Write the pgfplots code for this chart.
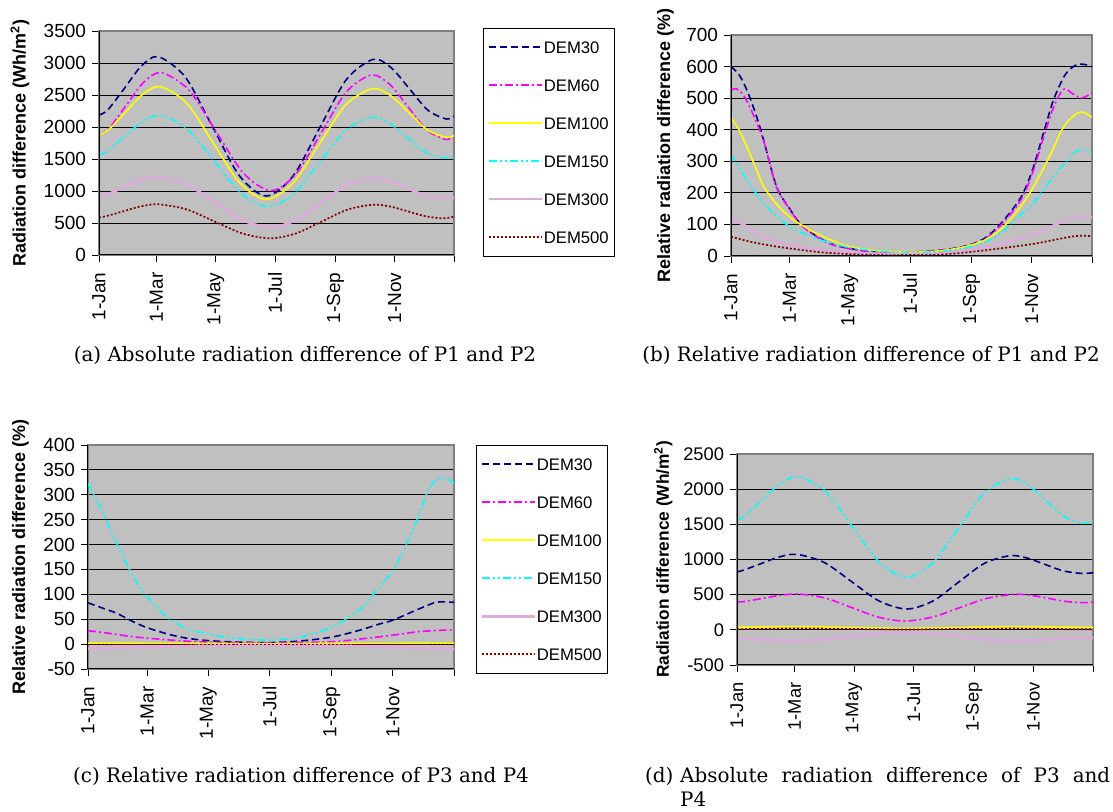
\documentclass[border=0pt]{standalone}
\usepackage{fontspec}
\setsansfont{Liberation Sans}
\newfontfamily\capfont{DejaVu Serif}
\usepackage{pgfplots}
\pgfplotsset{compat=1.18}
\definecolor{c30}{HTML}{000080}
\definecolor{c60}{HTML}{FF00FF}
\definecolor{c100}{HTML}{FFFF00}
\definecolor{c150}{HTML}{00FFFF}
\definecolor{c300}{HTML}{DDAADD}
\definecolor{c500}{HTML}{800000}
\definecolor{plotbg}{HTML}{C0C0C0}
\definecolor{framegray}{HTML}{808080}
\pgfplotsset{
  dem30/.style={c30, line width=1.6pt, dash pattern=on 7pt off 4pt},
  dem60/.style={c60, line width=1.6pt, dash pattern=on 8pt off 3pt on 2pt off 3pt},
  dem100/.style={c100, line width=1.6pt},
  dem150/.style={c150, line width=1.6pt, dash pattern=on 8pt off 3pt on 2pt off 3pt on 2pt off 3pt},
  dem300/.style={c300, line width=2.6pt},
  dem500/.style={c500, line width=1.7pt, dash pattern=on 2pt off 2pt},
  base/.style={
    scale only axis, anchor=south west,
    xmin=0, xmax=365,
    xtick={0,59,120,181,243,304,365},
    xticklabels={1-Jan,1-Mar,1-May,1-Jul,1-Sep,1-Nov,{}},
    tick pos=left,
    tick align=outside,
    major tick length=7pt,
    tick style={black, line width=0.9pt},
    axis background/.style={fill=plotbg},
    axis line style={framegray, line width=1.2pt},
    ymajorgrids, grid style={black, line width=0.9pt},
    clip mode=individual,
    /pgf/number format/assume math mode=true,
    /pgf/number format/1000 sep={},
    xticklabel style={font=\fontsize{19}{20}\selectfont\sffamily, yshift=-7pt, rotate=90, anchor=east},
    yticklabel style={font=\fontsize{19}{20}\selectfont\sffamily, xshift=-2.5pt},
    ylabel style={font=\fontsize{18}{20}\selectfont\sffamily\bfseries, anchor=center},
    every axis plot/.append style={smooth},
    after end axis/.code={\draw[black, line width=1pt] (rel axis cs:0,1) -- (rel axis cs:0,0) -- (rel axis cs:1,0);},
  },
  leg/.style={
    legend style={anchor=north west, draw=black, fill=white,
      font=\fontsize{16.7}{18}\selectfont\sffamily, inner xsep=4pt, inner ysep=12pt, row sep=24pt,
      nodes={inner sep=1pt, text height=12pt, text depth=0pt}},
    legend cell align=left,
  },
}
\begin{document}
\begin{tikzpicture}
\useasboundingbox (0,0) rectangle (1113pt,811pt);
% ---------------- (a)
\begin{axis}[base, leg, at={(99pt,556pt)}, width=355pt, height=224pt,
  ymin=0, ymax=3500, ytick={0,500,...,3500},
  ylabel={Radiation difference (Wh/m\textsuperscript{2})},
  ylabel style={at={(axis description cs:-0.2225,0.5)}},
  legend style={at={(axis description cs:1.0817,1.0134)}},
  legend image code/.code={\draw[#1] (0pt,0pt) -- (53pt,0pt);}]
\addplot[dem30] coordinates {(0,2187)(9,2267)(26.5,2611)(43.75,2956)(61,3098)(88.75,2779)(116.5,2010)(144.25,1241)(172,922)(199.5,1235)(227,1990)(254.5,2744)(282,3057)(300.75,2921)(319.5,2591)(338.25,2261)(357,2125)(365,2172)};
\addplot[dem60] coordinates {(0,1875)(9.25,1960)(27.5,2328)(45.75,2696)(64,2849)(92.25,2579)(120.5,1927)(148.75,1275)(177,1005)(202.75,1270)(228.5,1909)(254.25,2547)(280,2812)(299,2665)(318,2310)(337,1954)(356,1807)(365,1849)};
\addplot[dem100] coordinates {(0,1870)(9.75,1955)(27.5,2235)(45.25,2514)(63,2630)(90.25,2372)(117.5,1750)(144.75,1128)(172,870)(199.25,1123)(226.5,1735)(253.75,2346)(281,2599)(300,2488)(319,2219)(338,1950)(357,1839)(365,1865)};
\addplot[dem150] coordinates {(0,1563)(7.5,1613)(26,1847)(44.5,2080)(63,2177)(90.75,1969)(118.5,1466)(146.25,963)(174,755)(200.5,959)(227,1453)(253.5,1947)(280,2151)(298.5,2058)(317,1834)(335.5,1609)(354,1516)(365,1547)};
\addplot[dem300] coordinates {(0,901)(7,935)(25,1055)(43,1174)(61,1224)(89.75,1108)(118.5,828)(147.25,548)(176,432)(202,544)(228,815)(254,1086)(280,1198)(298.5,1152)(317,1042)(335.5,931)(354,885)(365,891)};
\addplot[dem500] coordinates {(0,589)(7,605)(25,683)(43,760)(61,792)(89.75,714)(118.5,526)(147.25,338)(176,260)(202.5,337)(229,523)(255.5,709)(282,786)(300,755)(318,680)(336,604)(354,573)(365,599)};
\legend{DEM30,DEM60,DEM100,DEM150,DEM300,DEM500}
\end{axis}
% ---------------- (b)
\begin{axis}[base, at={(731pt,555pt)}, width=361pt, height=221pt,
  ymin=0, ymax=700, ytick={0,100,...,700},
  ylabel={Relative radiation difference (\%)},
  ylabel style={at={(axis description cs:-0.1814,0.5)}}]
\addplot[dem30] coordinates {(0,600)(8,575)(16,526)(25,450)(33,367)(46,220)(59,151)(73,93)(100,40)(134,17)(160,12)(181,12)(210,18)(235,30)(255,53)(272,100)(292,180)(304,265)(316,390)(326,494)(338,575)(349,605)(357,607)(365,600)};
\addplot[dem60] coordinates {(0,525)(5,530)(12,512)(20,465)(33,365)(46,218)(59,150)(73,92)(100,38)(134,16)(160,12)(181,12)(210,17)(235,29)(255,50)(272,95)(292,172)(304,255)(316,375)(326,470)(336,528)(345,515)(354,500)(365,516)};
\addplot[dem100] coordinates {(0,438)(8,400)(16,346)(25,280)(33,220)(46,165)(59,125)(73,95)(86,72)(100,52)(120,30)(150,16)(181,12)(210,16)(235,28)(255,48)(272,82)(285,125)(296,170)(306,220)(322,315)(333,390)(340,425)(350,452)(356,455)(365,440)};
\addplot[dem150] coordinates {(0,322)(8,282)(16,241)(25,200)(33,167)(46,128)(59,93)(73,72)(86,56)(100,42)(120,27)(150,15)(181,11)(210,14)(235,24)(255,42)(272,72)(289,120)(305,165)(322,235)(340,304)(348,330)(355,338)(365,325)};
\addplot[dem300] coordinates {(0,118)(15,95)(33,60)(59,35)(90,18)(120,10)(150,7)(181,6)(210,8)(240,18)(272,38)(305,68)(325,95)(340,115)(355,125)(365,121)};
\addplot[dem500] coordinates {(0,61)(20,45)(40,33)(59,24)(90,12)(120,6)(150,3)(181,3)(210,4)(240,12)(272,24)(305,38)(325,50)(340,59)(352,64)(365,63)};
\end{axis}
% ---------------- (c)
\begin{axis}[base, leg, at={(88pt,142pt)}, width=366pt, height=224pt,
  ymin=-50, ymax=400, ytick={-50,0,...,400},
  ylabel={Relative radiation difference (\%)},
  ylabel style={at={(axis description cs:-0.1844,0.5)}},
  legend style={at={(axis description cs:1.0601,1.0)}},
  legend image code/.code={\draw[#1] (0pt,0pt) -- (53pt,0pt);}]
\addplot[dem30] coordinates {(0,83)(15,72)(28.6,62)(45,45)(59,33)(80,20)(98,12)(120,7)(150,4)(181,3)(210,6)(243,14)(271,28)(290,40)(304.5,48.5)(327.5,68.5)(345,83)(351,85)(365,84)};
\addplot[dem60] coordinates {(0,27)(20,22)(40,16)(59,12)(90,7)(120,4)(181,2.5)(243,5)(275,11)(304,18)(330,25)(354,28)(365,28)};
\addplot[dem100] coordinates {(0,2)(181,1)(365,2)};
\addplot[dem150] coordinates {(0,323)(12,276)(28.6,203)(45,136)(59,95)(78.5,55)(98,32)(120,20)(145,12)(181.5,8)(211,14)(243,34)(271,69)(288,109)(304.5,149)(318,203)(329.5,256)(341,316)(354,335)(365,323)};
\addplot[dem300] coordinates {(0,-9)(59,-6)(120,-3)(181,-2)(243,-3)(304,-6)(340,-9)(365,-9)};
\addplot[dem500] coordinates {(0,-1)(181,-1)(365,-1)};
\legend{DEM30,DEM60,DEM100,DEM150,DEM300,DEM500}
\end{axis}
% ---------------- (d)
\begin{axis}[base, at={(737pt,146pt)}, width=356pt, height=211pt,
  ymin=-500, ymax=2500, ytick={-500,0,...,2500},
  yticklabel style={font=\fontsize{18.3}{20}\selectfont\sffamily},
  xticklabel style={font=\fontsize{18.3}{20}\selectfont\sffamily},
  ylabel={Radiation difference (Wh/m\textsuperscript{2})},
  ylabel style={font=\fontsize{17.3}{19}\selectfont\sffamily\bfseries, at={(axis description cs:-0.207,0.5)}}]
\addplot[dem30] coordinates {(0,827)(5.5,843)(24,938)(42.5,1033)(61,1073)(89.25,959)(117.5,685)(145.75,410)(174,296)(200.5,407)(227,676)(253.5,944)(280,1055)(298,1018)(316,929)(334,840)(352,803)(365,811)};
\addplot[dem60] coordinates {(0,396)(8.25,404)(26.5,448)(44.75,491)(63,509)(90.25,453)(117.5,317)(144.75,181)(172,125)(200.25,181)(228.5,315)(256.75,449)(285,505)(302.5,488)(320,446)(337.5,403)(355,386)(365,396)};
\addplot[dem100] coordinates {(0,35)(61,45)(120,32)(172,20)(228,32)(281,45)(320,40)(355,35)(365,35)};
\addplot[dem150] coordinates {(0,1563)(7.5,1613)(26,1847)(44.5,2080)(63,2177)(90.75,1969)(118.5,1463)(146.25,957)(174,745)(200.5,952)(227,1448)(253.5,1945)(280,2151)(298.5,2058)(317,1834)(335.5,1609)(354,1516)(365,1547)};
\addplot[dem300] coordinates {(0,-121)(15,-132)(30,-143)(45,-151)(61,-154)(90,-138)(118,-95)(146,-52)(174,-35)(201,-52)(228,-95)(255,-138)(282,-154)(300,-150)(320,-137)(340,-122)(355,-114)(365,-112)};
\addplot[dem500] coordinates {(0,8)(61,20)(120,12)(172,5)(228,12)(281,18)(320,12)(355,8)(365,8)};
\end{axis}
% ---------------- captions
\begin{scope}[every node/.style={font=\capfont\fontsize{19.9}{24}\selectfont, inner sep=0pt}]
\node[anchor=base] at (305pt,449pt) {(a) Absolute radiation difference of P1 and P2};
\node[anchor=base] at (871pt,449pt) {(b) Relative radiation difference of P1 and P2};
\node[anchor=base] at (301pt,29pt) {(c) Relative radiation difference of P3 and P4};
\node[anchor=base west] at (645pt,29pt) {(d)};
\node[anchor=base west, text width=430pt, align=justify] at (680pt,29pt) {Absolute radiation difference of P3 and\linebreak P4};
\end{scope}
\end{tikzpicture}
\end{document}
